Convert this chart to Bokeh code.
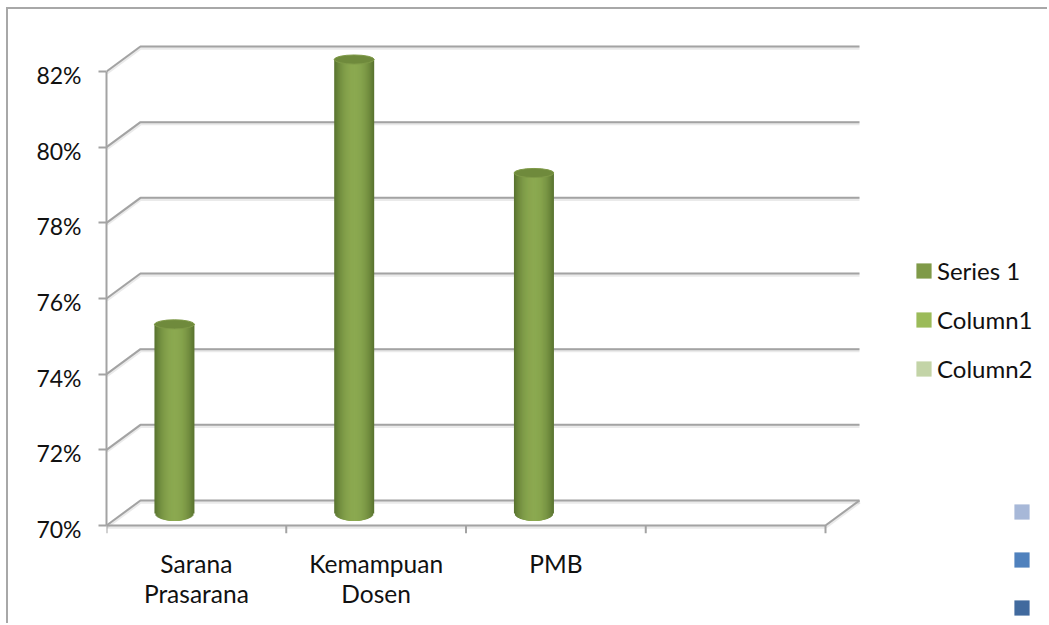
from bokeh.plotting import figure
from bokeh.layouts import column
from bokeh.models import FixedTicker, Legend, LegendItem, LinearAxis, Range1d
from bokeh.embed import file_html
from bokeh.resources import INLINE

categories = ["Sarana\nPrasarana", "Kemampuan\nDosen", "PMB"]
values = [75, 82, 79]
y_ticks = [70, 72, 74, 76, 78, 80, 82]
y_labels = ["70%", "72%", "74%", "76%", "78%", "80%", "82%"]
x_ticks = [0, 1, 2, 3, 4]
legend_top = ["Series 1", "Column1", "Column2"]
legend_top_colors = ["#7f9a48", "#9bbb59", "#c3d4a7"]
legend_bottom_colors = ["#a7b8d8", "#4f81bd", "#416a9e"]

FONT = "Lato"
GRID = "#a3a3a3"
PX_Y = 37.83
DX, DY = 0.189, 25 / PX_Y       # 3-D depth in data units
BAR_DX, BAR_DY = -0.122, 0.317  # cylinder position relative to category
BAR_W, CAP_H, BOT_H = 0.2225, 0.24, 0.40
TICK = 8 / PX_Y
N = 20

y0, y1 = y_ticks[0] - TICK, 82 + 31 / PX_Y
p = figure(width=1041, height=616, output_backend="svg", toolbar_location=None,
           x_range=Range1d(0, (1049 - 106) / 179.75), y_range=Range1d(y0, y1),
           min_border_left=98, min_border_right=0, min_border_top=31, min_border_bottom=92,
           outline_line_color=None, background_fill_color="white",
           styles={"margin-left": "6px", "margin-top": "7px",
                   "border-left": "2px solid #a8a8a8", "border-top": "2px solid #a8a8a8"})
p.grid.visible = False

# 3-D walls and floor
for color, width, alpha, shift in [("#8c8c8c", 4, 0.18, -0.03), (GRID, 2, 1, 0)]:
    xs, ys = [], []
    for v in y_ticks:
        xs.append([0, DX, x_ticks[-1] + DX])
        ys.append([v, v + DY, v + DY])
    xs.append([x_ticks[0], x_ticks[-1], x_ticks[-1] + DX])
    ys.append([y_ticks[0], y_ticks[0], y_ticks[0] + DY])
    p.multi_line(xs, [[y + shift for y in yy] for yy in ys], line_color=color,
                 line_width=width, line_alpha=alpha)

# category tick marks below the floor
p.segment(x0=x_ticks, y0=[y_ticks[0]] * len(x_ticks), x1=x_ticks, y1=[y0] * len(x_ticks),
          line_color=GRID, line_width=2)

# axes
yax = p.yaxis[0]
yax.ticker = FixedTicker(ticks=y_ticks)
yax.major_label_overrides = {v: "" for v in y_ticks}
yax.major_label_standoff = 0
yax.major_label_text_font_size = "1px"
yax.bounds = (y_ticks[0], y_ticks[-1])
yax.minor_tick_line_color = None
yax.major_tick_in = 0
yax.major_tick_out = 8
yax.major_tick_line_color = GRID
yax.major_tick_line_width = 2
yax.axis_line_color = GRID
yax.axis_line_width = 2

# labels sit a little below their ticks, as in the reference
LABEL_SHIFT = 3.5 / PX_Y
p.extra_y_ranges = {"labels": Range1d(y0 + LABEL_SHIFT, y1 + LABEL_SHIFT)}
lab_ax = LinearAxis(y_range_name="labels", ticker=FixedTicker(ticks=y_ticks),
                    major_label_overrides=dict(zip(y_ticks, y_labels)),
                    axis_line_color=None, major_tick_line_color=None,
                    minor_tick_line_color=None, major_tick_in=0, major_tick_out=0,
                    major_label_standoff=17, major_label_text_font=FONT,
                    major_label_text_font_size="23px", major_label_text_color="#111111")
p.add_layout(lab_ax, "left")

xax = p.xaxis[0]
centers = [i + 0.5 for i in range(len(categories))]
xax.ticker = FixedTicker(ticks=centers)
xax.major_label_overrides = dict(zip(centers, categories))
xax.major_tick_line_color = None
xax.minor_tick_line_color = None
xax.major_tick_in = 0
xax.major_tick_out = 0
xax.minor_tick_in = 0
xax.minor_tick_out = 0
xax.axis_line_color = None
xax.major_label_standoff = 15
xax.major_label_text_line_height = 1.05
xax.major_label_text_font = FONT
xax.major_label_text_font_size = "24.5px"
xax.major_label_text_color = "#111111"


def shade(t):
    # t in [0, 1] from the cylinder's centre to its edge
    k = min(1.0, t ** 2.2)
    c0, c1 = (0x8b, 0xa9, 0x50), (0x5a, 0x74, 0x30)
    return "#%02x%02x%02x" % tuple(round(a + (b - a) * k) for a, b in zip(c0, c1))


# cylinders: nested bars, outermost (darkest) first
base = y_ticks[0] + BAR_DY
for c, v in zip(centers, values):
    cx = c + BAR_DX
    for i in range(N):
        t = 1 - i / N
        bottom = base - (BOT_H / 2) * (1 - t * t) ** 0.5
        p.vbar(x=[cx], width=BAR_W * t, bottom=[bottom], top=[v + BAR_DY],
               fill_color=shade(t), line_color=None)
    p.ellipse(x=[cx], y=[v + BAR_DY], width=BAR_W, height=CAP_H, fill_color="#6f8a3c",
              line_color="#7f9a48", line_width=1)

# legend
nan = float("nan")
items = []
for lab, col in zip(legend_top, legend_top_colors):
    r = p.vbar(x=[nan], top=[nan], width=0.1, fill_color=col, line_color=None)
    items.append(LegendItem(label=lab, renderers=[r]))
leg = Legend(items=items, location=(808, 150), padding=0, margin=0, spacing=20,
             glyph_width=19, glyph_height=19, label_standoff=4, border_line_color=None,
             background_fill_alpha=0, label_text_font=FONT, label_text_font_size="24px",
             label_text_color="#111111", label_height=22)
p.add_layout(leg)

# the three unlabelled squares, bottom right
p2 = figure(width=37, height=120, output_backend="svg", toolbar_location=None,
            x_range=Range1d(0, 1), y_range=Range1d(0, 1),
            x_axis_location=None, y_axis_location=None,
            min_border=0, outline_line_color=None,
            background_fill_alpha=0, border_fill_alpha=0,
            styles={"position": "absolute", "left": "1012px", "top": "502px"})
p2.grid.visible = False
items2 = []
for col in legend_bottom_colors:
    r = p2.vbar(x=[nan], top=[nan], width=0.1, fill_color=col, line_color=None)
    items2.append(LegendItem(label=" ", renderers=[r]))
leg2 = Legend(items=items2, location="top_left", padding=0, margin=0, spacing=29,
              glyph_width=19, glyph_height=19, label_standoff=0, border_line_color=None,
              background_fill_alpha=0, label_text_font_size="12px", label_height=19)
p2.add_layout(leg2)

open("out.html", "w").write(file_html(column(p, p2), INLINE))
